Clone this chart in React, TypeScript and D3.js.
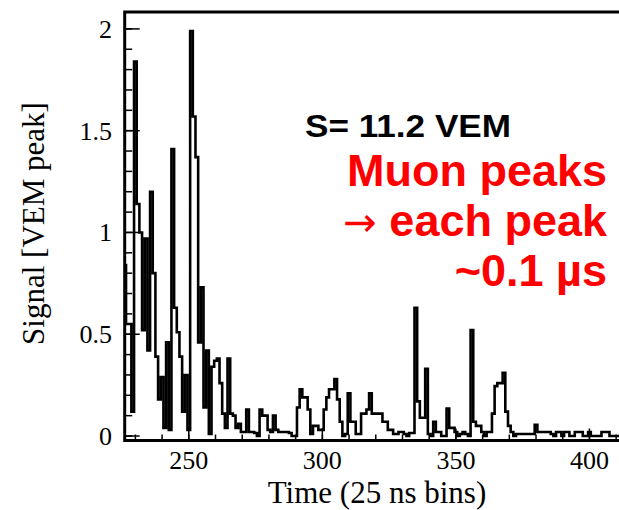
import React from "react";
import * as d3 from "d3";

const binStart = 226;
const signal = [
  0.84, 0.55, 0.55, 0.12, 1.84, 1.14, 1.0, 0.52, 0.97, 0.42,
  1.2, 0.8, 0.39, 0.18, 0.29, 0.04, 0.46, 0.03, 1.41, 0.63,
  0.51, 0.39, 0.12, 0.3, 0.03, 1.99, 1.57, 1.37, 0.46, 0.73,
  0.14, 0.42, 0.01, 0.34, 0.37, 0.38, 0.26, 0.11, 0.04, 0.38,
  0.11, 0.1, 0.04, 0.06, 0.02, 0.02, 0.13, 0.02, 0.02, 0.015,
  0.0, 0.13, 0.1, 0.1, 0.03, 0.02, 0.1, 0.03, 0.02, 0.02,
  0.02, 0.02, 0.015, 0.0, 0.0, 0.14, 0.23, 0.19, 0.19, 0.13,
  0.01, 0.05, 0.05, 0.03, 0.03, 0.13, 0.19, 0.23, 0.23, 0.28,
  0.18, 0.07, 0.0, 0.01, 0.21, 0.07, 0.07, 0.01, 0.01, 0.11,
  0.11, 0.13, 0.21, 0.11, 0.11, 0.11, 0.11, 0.07, 0.07, 0.03,
  0.03, 0.01, 0.01, 0.02, 0.02, 0.01, 0.0, 0.015, 0.015, 0.63,
  0.17, 0.09, 0.09, 0.33, 0.01, 0.0, 0.07, 0.02, 0.02, 0.0,
  0.0, 0.135, 0.04, 0.04, 0.02, 0.0, 0.01, 0.02, 0.01, 0.0,
  0.52, 0.07, 0.05, 0.05, 0.02, 0.0, 0.02, 0.02, 0.11, 0.245,
  0.26, 0.26, 0.31, 0.12, 0.05, 0.02, 0.0, 0.01, 0.01, 0.01,
  0.01, 0.01, 0.01, 0.01, 0.055, 0.02, 0.02, 0.02, 0.02, 0.02,
  0.01, 0.0, 0.02, 0.02, 0.0, 0.02, 0.02, 0.0, 0.0, 0.02,
  0.02, 0.02, 0.0, 0.0, 0.02, 0.0, 0.0, 0.0, 0.0, 0.02,
  0.02, 0.02, 0.0, 0.0, 0.0, 0.0,
];
const xMajorTicks = [250, 300, 350, 400];
const xMinorTicks = d3.range(230, 412, 10);
const yMajorTicks = [0, 0.5, 1, 1.5, 2];
const yMinorTicks = d3.range(0, 2.05, 0.1);
const yTickLabels = ["0", "0.5", "1", "1.5", "2"];
const xTitle = "Time (25 ns bins)";
const yTitle = "Signal [VEM peak]";
const sumLabel = "S= 11.2 VEM";
const noteLines = ["Muon peaks", "each peak", "~0.1 µs"];

const W = 619;
const H = 510;
const left = 124.7;
const right = 621.5;
const top = 12;
const bottom = 440.5;

export default function App() {
  const x = d3.scaleLinear().domain([226, 412]).range([left, right]);
  const y = d3.scaleLinear().domain([-0.022, 2.083]).range([bottom, top]);

  const pts: [number, number][] = signal.map((v, i) => [binStart + i - 0.5, v]);
  pts.push([binStart + signal.length - 0.5, signal[signal.length - 1]]);
  const line = d3
    .line<[number, number]>()
    .x((d) => x(d[0]))
    .y((d) => y(d[1]))
    .curve(d3.curveStepAfter);

  const serif = "'Liberation Serif', 'Times New Roman', serif";
  const sans = "'Liberation Sans', Arial, Helvetica, sans-serif";

  return (
    <svg
      width={W}
      height={H}
      style={{ position: "absolute", left: 0, top: 0, background: "#fff" }}
    >
      <rect x={0} y={0} width={W} height={H} fill="#fff" />
      <defs>
        <clipPath id="plotclip">
          <rect x={left} y={top} width={right - left} height={bottom - top} />
        </clipPath>
      </defs>
      <path
        d={line(pts) || ""}
        fill="none"
        stroke="#000"
        strokeWidth={2.6}
        clipPath="url(#plotclip)"
      />
      {xMinorTicks.map((t) => (
        <line key={"xm" + t} x1={x(t)} x2={x(t)} y1={bottom} y2={bottom - 6} stroke="#000" strokeWidth={1.5} />
      ))}
      {xMajorTicks.map((t) => (
        <line key={"xM" + t} x1={x(t)} x2={x(t)} y1={bottom} y2={bottom - 12} stroke="#000" strokeWidth={1.5} />
      ))}
      {yMinorTicks.map((t) => (
        <line key={"ym" + t} x1={left} x2={left + 7.5} y1={y(t)} y2={y(t)} stroke="#000" strokeWidth={1.5} />
      ))}
      {yMajorTicks.map((t) => (
        <line key={"yM" + t} x1={left} x2={left + 15} y1={y(t)} y2={y(t)} stroke="#000" strokeWidth={1.5} />
      ))}
      <rect
        x={left}
        y={top}
        width={right - left}
        height={bottom - top}
        fill="none"
        stroke="#000"
        strokeWidth={3}
      />
      {xMajorTicks.map((t) => (
        <text key={"xl" + t} x={x(t)} y={469} textAnchor="middle" fontFamily={serif} fontSize={26} fill="#000">
          {t}
        </text>
      ))}
      {yMajorTicks.map((t, i) => (
        <text key={"yl" + t} x={112} y={y(t) + 9} textAnchor="end" fontFamily={serif} fontSize={26} fill="#000">
          {yTickLabels[i]}
        </text>
      ))}
      <text x={377} y={503} textAnchor="middle" fontFamily={serif} fontSize={31} fill="#000">
        {xTitle}
      </text>
      <text
        transform="translate(44,223.5) rotate(-90)"
        textAnchor="middle"
        fontFamily={serif}
        fontSize={31}
        fill="#000"
      >
        {yTitle}
      </text>
      <text
        x={305}
        y={137}
        fontFamily={sans}
        fontWeight="bold"
        fontSize={31}
        fill="#000"
        textLength={206}
        lengthAdjust="spacingAndGlyphs"
      >
        {sumLabel}
      </text>
      <text x={607} y={186} textAnchor="end" fontFamily={sans} fontWeight="bold" fontSize={45} fill="#ff0000">
        {noteLines[0]}
      </text>
      <text x={607} y={236} textAnchor="end" fontFamily={sans} fontWeight="bold" fontSize={45} fill="#ff0000">
        <tspan fontWeight="normal" fontFamily="'DejaVu Sans', sans-serif" fontSize={40}>{"→ "}</tspan>
        {noteLines[1]}
      </text>
      <text x={607} y={286} textAnchor="end" fontFamily={sans} fontWeight="bold" fontSize={45} fill="#ff0000">
        {noteLines[2]}
      </text>
    </svg>
  );
}
